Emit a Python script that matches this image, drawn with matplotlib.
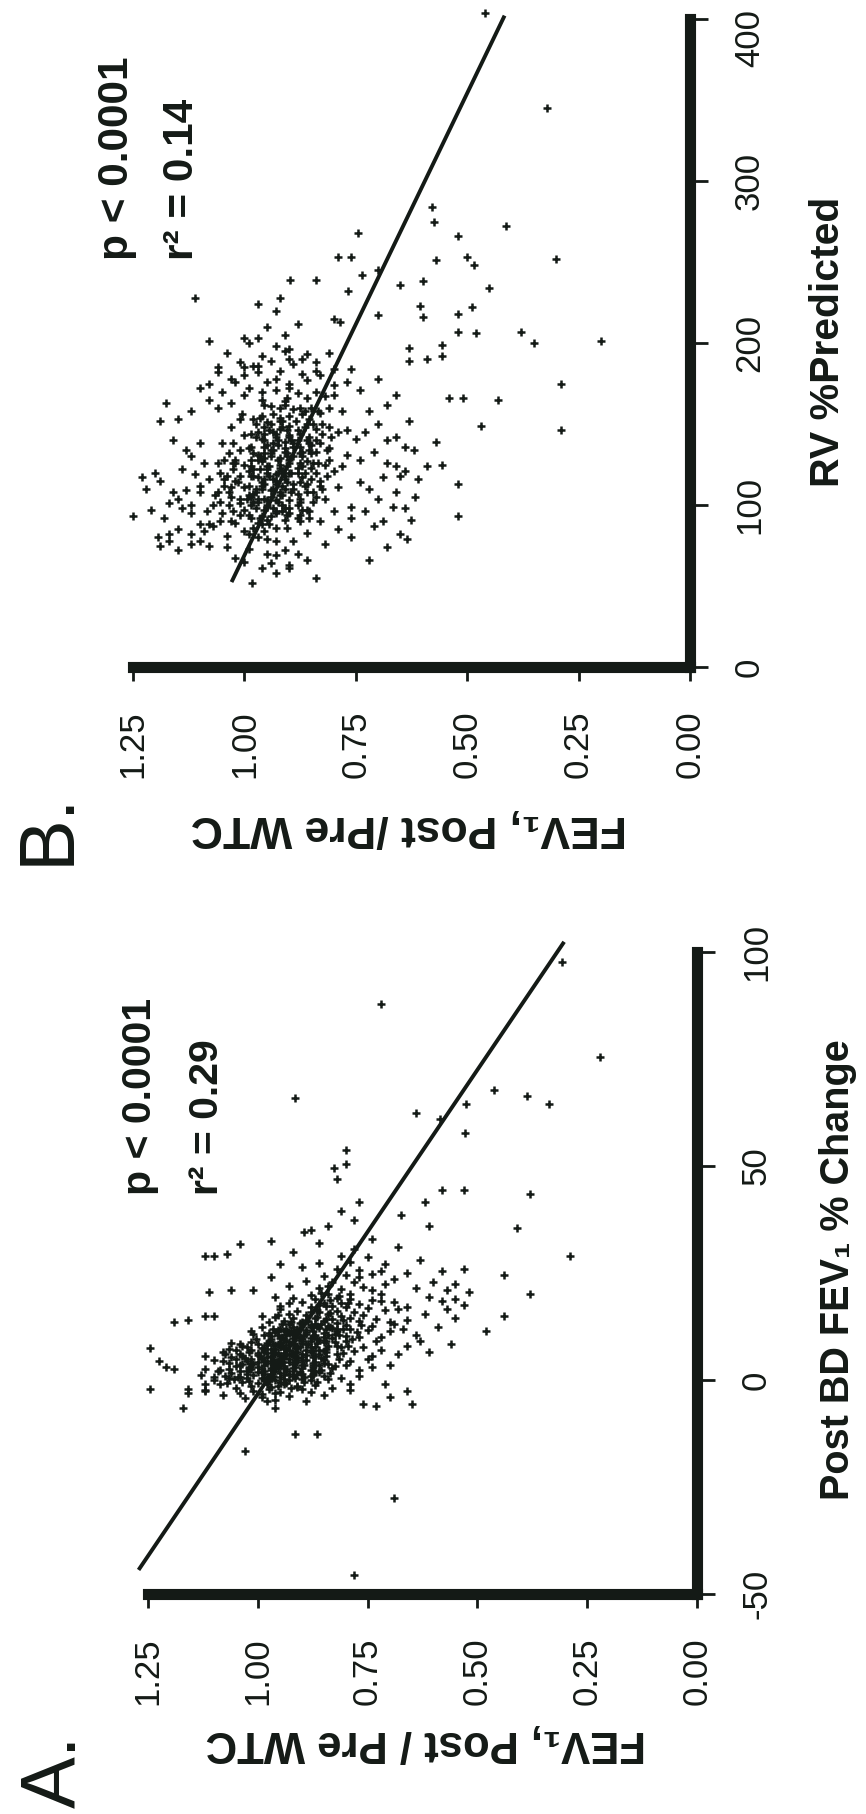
import matplotlib
matplotlib.use('Agg')
import matplotlib.pyplot as plt
import matplotlib.transforms as mtransforms

W, H = 866, 1814
FONT = ['Liberation Sans', 'DejaVu Sans']
plt.rcParams['font.family'] = FONT
INK = '#141a16'

# ---- panel A : post BD FEV1 % change (x) vs FEV1 post/pre WTC (y)
a_core = [
    (-4.6, 0.96), (-4.3, 1.03), (-4.8, 0.89),
    (-3.4, 1.08), (-3.7, 0.93), (-3.2, 0.99), (-3.6, 0.85),
    (-2.5, 1.01), (-2.8, 0.95), (-2.4, 1.12), (-2.7, 0.88), (-2.3, 0.79),
    (-1.7, 0.97), (-1.9, 1.05), (-1.6, 0.91), (-2.0, 1.16), (-1.8, 0.83),
    (-0.8, 1.00), (-1.0, 0.94), (-0.7, 1.07), (-1.1, 0.87), (-0.9, 0.98),
    (0.1, 0.96), (-0.2, 1.02), (0.3, 0.90), (0.0, 1.10), (-0.1, 0.93), (0.2, 0.84), (0.4, 0.99),
    (0.8, 0.98), (1.0, 0.92), (0.6, 1.04), (0.9, 0.88), (0.7, 0.95), (1.1, 1.13), (0.5, 0.81),
    (1.6, 0.95), (1.8, 1.00), (1.4, 0.90), (1.7, 1.06), (1.5, 0.97), (1.9, 0.86), (1.3, 0.93),
    (2.4, 0.97), (2.2, 0.92), (2.6, 1.02), (2.3, 0.88), (2.5, 0.99), (2.7, 0.94), (2.1, 1.09), (2.8, 0.83), (2.4, 0.77),
    (3.2, 0.94), (3.0, 1.00), (3.4, 0.90), (3.1, 0.96), (3.3, 1.05), (3.5, 0.86), (2.9, 0.92), (3.6, 0.80),
    (4.0, 0.96), (4.2, 0.91), (3.8, 1.01), (4.1, 0.87), (3.9, 0.98), (4.3, 0.93), (4.4, 1.08), (3.7, 0.84),
    (4.8, 0.93), (5.0, 0.99), (4.6, 0.89), (4.9, 0.95), (5.1, 1.03), (4.7, 0.85), (5.2, 0.91), (4.5, 0.79),
    (5.6, 0.95), (5.4, 0.90), (5.8, 1.00), (5.5, 0.87), (5.7, 0.97), (5.9, 0.92), (5.3, 1.06), (6.0, 0.82), (5.6, 0.74),
    (6.4, 0.92), (6.2, 0.98), (6.6, 0.88), (6.3, 0.94), (6.5, 1.02), (6.7, 0.85), (6.1, 0.90), (6.8, 0.78),
    (7.2, 0.94), (7.0, 0.89), (7.4, 0.99), (7.1, 0.86), (7.3, 0.96), (7.5, 0.91), (6.9, 1.05), (7.6, 0.81),
    (8.0, 0.91), (8.2, 0.96), (7.8, 0.87), (8.1, 0.93), (8.3, 1.00), (7.9, 0.84), (8.4, 0.89), (7.7, 0.76),
    (8.8, 0.93), (9.0, 0.88), (8.6, 0.98), (8.9, 0.85), (8.7, 0.95), (9.1, 0.90), (9.2, 0.80), (8.5, 1.04),
    (9.6, 0.90), (9.8, 0.95), (9.4, 0.86), (9.7, 0.92), (9.9, 0.83), (9.5, 0.97), (10.0, 0.77),
    (10.4, 0.92), (10.6, 0.87), (10.2, 0.97), (10.5, 0.84), (10.7, 0.89), (10.3, 0.80), (10.8, 1.01), (10.1, 0.72),
    (11.2, 0.89), (11.4, 0.94), (11.0, 0.85), (11.3, 0.91), (11.5, 0.82), (11.1, 0.96), (11.6, 0.75),
    (12.0, 0.91), (12.2, 0.86), (11.8, 0.95), (12.1, 0.83), (12.3, 0.88), (11.9, 0.79), (12.4, 0.99),
    (12.8, 0.88), (13.0, 0.93), (12.6, 0.84), (12.9, 0.80), (13.1, 0.90), (12.7, 0.74),
    (13.6, 0.90), (13.8, 0.85), (13.4, 0.82), (13.7, 0.94), (13.9, 0.77), (13.5, 0.70),
    (14.4, 0.87), (14.6, 0.92), (14.2, 0.83), (14.5, 0.79), (14.7, 0.96), (14.3, 0.73),
    (15.2, 0.89), (15.4, 0.84), (15.0, 0.81), (15.3, 0.76), (15.5, 0.93),
    (16.0, 0.86), (16.2, 0.91), (15.8, 0.78), (16.1, 0.82), (16.3, 0.71),
    (17.0, 0.88), (17.2, 0.83), (16.8, 0.75), (17.1, 0.80), (17.3, 0.95),
    (18.0, 0.85), (18.2, 0.90), (17.8, 0.77), (18.1, 0.81), (18.3, 0.69),
    (19.0, 0.87), (19.2, 0.82), (18.8, 0.74), (19.1, 0.92),
    (20.0, 0.84), (20.2, 0.79), (19.8, 0.88), (20.1, 0.72),
    (21.5, 0.86), (21.3, 0.81), (21.7, 0.76),
    (23.0, 0.83), (22.8, 0.78), (23.2, 0.89),
    (24.5, 0.80), (24.3, 0.85), (24.7, 0.74),
    (26.0, 0.82), (25.8, 0.77), (27.5, 0.79), (27.3, 0.86), (29.0, 0.81), (28.8, 0.75),
]
a_dense = [
    (1.2, 0.94), (2.0, 0.96), (2.9, 0.97), (3.6, 0.95), (4.5, 0.97), (5.2, 0.94), (6.0, 0.96),
    (6.9, 0.93), (7.8, 0.95), (8.4, 0.92), (9.3, 0.94), (1.5, 0.91), (2.7, 0.90), (3.8, 0.92),
    (4.6, 0.90), (5.8, 0.89), (6.6, 0.91), (7.6, 0.88), (8.6, 0.90), (9.8, 0.88), (0.5, 0.97),
    (1.9, 0.99), (3.0, 1.02), (4.2, 1.00), (5.4, 0.98), (6.2, 1.00), (7.2, 0.97), (8.1, 0.98),
    (1.1, 1.01), (2.2, 1.04), (3.5, 1.04), (4.9, 1.05), (6.0, 1.04), (0.2, 0.94), (10.9, 0.93),
    (11.7, 0.89), (12.5, 0.92), (13.2, 0.87), (14.0, 0.89), (0.0, 0.88), (-1.3, 0.91), (-0.5, 0.95),
    (2.0, 0.87), (4.0, 0.85), (6.0, 0.86), (8.0, 0.82), (10.0, 0.85), (12.0, 0.82), (1.0, 0.85),
]
a_core2 = [
    (-2.2, 0.975), (-1.4, 1.015), (-0.6, 0.935), (0.2, 1.055), (1.0, 0.965), (1.8, 0.905),
    (2.6, 1.065), (3.4, 0.985), (4.2, 0.945), (5.0, 1.015), (5.8, 0.935), (6.6, 0.965),
    (7.4, 0.915), (8.2, 0.945), (9.0, 0.975), (9.8, 0.905), (10.6, 0.935), (11.4, 0.875),
    (12.2, 0.905), (13.0, 0.855), (13.8, 0.885),
    (-1.8, 0.925), (-1.0, 1.085), (-0.2, 0.975), (0.6, 0.895), (1.4, 1.025), (2.2, 0.985),
    (3.0, 0.875), (3.8, 1.035), (4.6, 0.915), (5.4, 0.875), (6.2, 0.955), (7.0, 1.015),
    (7.8, 0.905), (8.6, 0.865), (9.4, 0.915), (10.2, 0.875), (11.0, 0.915), (11.8, 0.845),
    (12.6, 0.865), (13.4, 0.905), (14.2, 0.845),
    (-0.4, 0.865), (0.4, 1.025), (1.2, 0.875), (2.0, 1.025), (2.8, 0.955), (3.6, 0.895),
    (4.4, 0.985), (5.2, 0.855), (6.0, 1.075), (6.8, 0.875), (7.6, 1.025), (8.4, 0.955),
    (9.2, 0.845), (10.0, 0.945), (10.8, 0.825), (11.6, 0.955), (12.4, 0.835), (13.2, 0.945),
    (14.0, 0.805), (14.8, 0.865), (15.6, 0.835), (16.4, 0.865), (17.2, 0.845), (18.0, 0.795),
    (18.8, 0.835), (19.6, 0.815), (20.4, 0.855),
    (1.6, 0.835), (3.2, 0.825), (4.8, 0.815), (6.4, 0.805), (8.0, 0.795), (9.6, 0.785),
    (11.2, 0.775), (12.8, 0.765), (2.4, 0.855), (4.0, 0.875), (5.6, 0.845), (7.2, 0.845),
    (8.8, 0.825), (10.4, 0.815), (12.0, 0.805),
    (0.8, 1.045), (2.4, 1.085), (4.0, 1.065), (5.6, 1.035), (7.2, 1.065), (8.8, 1.015),
    (10.4, 0.985), (12.0, 0.965), (13.6, 0.975), (15.2, 0.955),
]
a_core3 = [
    (-0.5, 1.035), (0.5, 0.915), (1.5, 0.985), (2.5, 0.935), (3.5, 0.965), (4.5, 1.025),
    (5.5, 0.915), (6.5, 0.985), (7.5, 0.935), (8.5, 0.965), (9.5, 1.005), (10.5, 0.955),
    (11.5, 0.925), (0.0, 0.985), (1.0, 1.075), (2.0, 0.935), (3.0, 0.915), (4.0, 1.015),
    (5.0, 0.965), (6.0, 0.925), (7.0, 0.985), (8.0, 1.035), (9.0, 0.935), (10.0, 0.905),
    (11.0, 0.975), (12.0, 0.935), (-1.5, 0.955), (-0.5, 0.895), (0.5, 1.065), (1.5, 0.875),
    (2.5, 1.015), (3.5, 0.875), (4.5, 0.955), (5.5, 0.995), (6.5, 0.845), (7.5, 0.985),
    (8.5, 0.885), (9.5, 0.865), (10.5, 0.895), (11.5, 1.015), (12.5, 0.875), (13.5, 0.925),
    (-3.0, 1.04), (-2.0, 0.90), (-4.0, 0.99), (-3.0, 0.96), (-1.0, 1.12), (0.6, 1.10),
    (2.6, 1.12), (4.6, 1.10), (6.6, 1.08), (8.6, 1.06), (15.0, 0.99), (16.5, 0.95),
    (18.0, 0.93), (19.5, 0.96), (16.0, 0.88), (17.5, 0.86), (19.0, 0.79), (21.0, 0.74),
    (22.5, 0.71), (24.0, 0.77), (25.5, 0.72), (22.0, 0.84), (18.5, 0.72), (16.5, 0.68),
    (14.0, 0.66), (11.5, 0.70), (9.0, 0.73), (7.0, 0.72), (5.0, 0.75), (3.0, 0.74),
    (1.0, 0.77), (-1.0, 0.79),
]
a_spread = [
    (-45.5, 0.78), (-27.5, 0.69), (-16.5, 1.03), (-12.5, 0.915), (-12.5, 0.865),
    (-6.5, 1.17), (-6.0, 0.73), (-5.5, 0.65), (-5.5, 0.76), (-6.5, 0.96), (-5.0, 0.98),
    (-4.0, 0.70), (-3.0, 1.16), (-2.0, 1.245), (-2.5, 1.12), (-2.5, 0.66), (-1.0, 0.71),
    (2.5, 1.19), (3.0, 1.21), (4.5, 1.225), (5.5, 1.12), (7.5, 1.245), (6.0, 0.68), (8.0, 0.66),
    (3.5, 0.70), (10.5, 0.64), (12.0, 0.67), (13.5, 1.19), (14.0, 1.16), (15.0, 1.12),
    (15.0, 1.10), (20.5, 1.11), (21.0, 1.06), (21.0, 1.01), (29.0, 1.12), (29.5, 1.07),
    (31.7, 1.04), (29.0, 1.10), (22.0, 0.93), (24.0, 0.97), (26.5, 0.90), (27.0, 0.95),
    (30.0, 0.92), (32.5, 0.97), (35.0, 0.88),
    (6.5, 0.61), (8.5, 0.56), (9.0, 0.63), (11.5, 0.48), (12.5, 0.59), (13.0, 0.69),
    (14.5, 0.55), (15.0, 0.44), (15.5, 0.62), (16.5, 0.57), (17.0, 0.66), (17.5, 0.53),
    (18.5, 0.58), (19.0, 0.55), (19.5, 0.61), (20.0, 0.38), (20.5, 0.52), (21.0, 0.57),
    (21.5, 0.64), (22.5, 0.55), (23.0, 0.60), (23.5, 0.69), (24.5, 0.44), (25.0, 0.66),
    (25.5, 0.58), (26.0, 0.53), (27.0, 0.71), (28.0, 0.63), (29.0, 0.29), (30.5, 0.78),
    (31.0, 0.68), (32.0, 0.86), (33.0, 0.74), (34.5, 0.895), (35.5, 0.41), (36.0, 0.84),
    (36.0, 0.61), (37.5, 0.78), (38.5, 0.675), (39.5, 0.81), (41.5, 0.62), (41.5, 0.77),
    (43.5, 0.38), (44.5, 0.58), (44.5, 0.53), (47.0, 0.82), (49.6, 0.826), (50.5, 0.80),
    (53.8, 0.80), (57.6, 0.528), (61.0, 0.585), (62.5, 0.64), (64.4, 0.525), (64.4, 0.336),
    (66.3, 0.387), (66.0, 0.915), (67.8, 0.463), (75.4, 0.22), (87.9, 0.72), (97.7, 0.308),
]
fit_a_x = [-44, 102]
fit_a_y = [1.269, 0.305]

# ---- panel B : RV % predicted (x) vs FEV1 post/pre WTC (y)
b_core = [
    (61, 0.96), (63, 0.90), (67, 1.02), (69, 0.93), (66, 0.86),
    (73, 0.99), (75, 1.08), (72, 0.91), (76, 0.82),
    (79, 0.95), (81, 1.04), (78, 0.89), (82, 1.12), (80, 0.97),
    (84, 1.00), (86, 0.93), (83, 0.86), (87, 1.07), (85, 0.79), (88, 0.96),
    (89, 0.97), (91, 0.91), (90, 1.03), (92, 0.88), (88, 1.10), (93, 0.94), (90, 0.83),
    (94, 0.99), (96, 0.93), (95, 1.05), (97, 0.87), (93, 0.96), (98, 1.14), (95, 0.90), (96, 0.80),
    (99, 0.95), (101, 1.01), (98, 0.90), (102, 0.98), (100, 1.07), (97, 0.86), (103, 0.93), (99, 0.76), (101, 1.17),
    (104, 0.97), (106, 0.92), (105, 1.03), (107, 0.88), (103, 0.95), (108, 1.10), (105, 0.84), (106, 0.99),
    (109, 0.94), (111, 1.00), (110, 0.89), (112, 0.96), (108, 1.06), (113, 0.86), (110, 0.91), (111, 0.79), (109, 1.13),
    (114, 0.96), (116, 0.91), (115, 1.02), (117, 0.87), (113, 0.93), (118, 0.98), (115, 0.83), (116, 1.08), (114, 0.74),
    (119, 0.93), (121, 0.99), (120, 0.88), (122, 0.95), (118, 1.04), (123, 0.85), (120, 0.90), (121, 0.80), (119, 1.11),
    (124, 0.95), (126, 0.90), (125, 1.00), (127, 0.86), (123, 0.92), (128, 0.97), (125, 0.82), (126, 1.06),
    (129, 0.92), (131, 0.97), (130, 0.87), (132, 0.94), (128, 1.02), (133, 0.84), (130, 0.89), (131, 0.77),
    (134, 0.94), (136, 0.89), (135, 0.99), (137, 0.85), (133, 0.91), (138, 1.05), (135, 0.81),
    (139, 0.91), (141, 0.96), (140, 0.86), (142, 0.93), (138, 0.83), (143, 1.00), (140, 0.88), (141, 0.75),
    (144, 0.93), (146, 0.88), (145, 0.97), (147, 0.84), (143, 0.90), (148, 1.03), (145, 0.79),
    (149, 0.90), (151, 0.95), (150, 0.86), (152, 0.92), (148, 0.81), (153, 0.98),
    (154, 0.92), (156, 0.87), (155, 0.96), (157, 0.83), (153, 1.01),
    (159, 0.89), (161, 0.94), (160, 0.85), (162, 0.91), (158, 0.78),
    (164, 0.91), (166, 0.86), (165, 0.96), (167, 0.82), (163, 1.03),
    (169, 0.88), (171, 0.93), (170, 0.84), (172, 0.99),
    (175, 0.90), (177, 0.86), (176, 0.95), (174, 0.80),
    (181, 0.87), (183, 0.92), (182, 0.97), (180, 0.83),
    (187, 0.89), (189, 0.94), (188, 0.84), (193, 0.86), (195, 0.91), (194, 0.81),
]
b_dense = [
    (95, 0.93), (100, 0.95), (105, 0.94), (110, 0.96), (115, 0.93), (120, 0.95), (125, 0.92),
    (130, 0.94), (135, 0.91), (98, 0.91), (103, 0.90), (108, 0.92), (113, 0.89), (118, 0.91),
    (123, 0.88), (128, 0.90), (133, 0.87), (138, 0.89), (102, 0.97), (107, 0.98), (112, 0.99),
    (117, 0.97), (122, 0.98), (127, 0.96), (132, 0.98), (137, 0.95), (142, 0.90), (147, 0.92),
    (97, 1.00), (104, 1.01), (111, 1.03), (118, 1.01), (126, 1.02), (134, 1.01), (100, 0.88),
    (108, 0.86), (116, 0.85), (124, 0.87), (132, 0.85), (140, 0.84), (91, 0.95), (86, 0.98),
    (94, 1.01), (150, 0.94), (155, 0.90), (160, 0.92), (112, 0.83), (120, 0.84), (104, 0.82),
    (128, 0.81),
]
b_core2 = [
    (88, 0.945), (92, 0.985), (96, 0.915), (100, 1.035), (104, 0.955), (108, 0.895), (112, 1.045),
    (116, 0.955), (120, 0.925), (124, 0.985), (128, 0.925), (132, 0.905), (136, 0.955), (140, 0.925),
    (144, 0.875), (148, 0.955), (152, 0.885), (156, 0.935),
    (86, 0.905), (90, 1.055), (94, 0.875), (98, 0.975), (102, 0.925), (106, 1.065), (110, 0.935),
    (114, 0.875), (118, 0.945), (122, 1.025), (126, 0.875), (130, 0.965), (134, 0.855), (138, 0.935),
    (142, 0.975), (146, 0.905), (150, 0.845), (154, 0.965), (158, 0.865), (162, 0.955),
    (84, 0.955), (92, 0.855), (100, 0.915), (108, 0.975), (116, 1.045), (124, 0.905), (132, 1.035),
    (140, 0.955), (148, 0.865), (156, 1.005),
    (96, 1.085), (104, 0.875), (112, 0.915), (120, 0.865), (128, 1.045), (136, 0.875), (144, 0.955),
    (152, 0.915), (160, 0.875),
    (89, 1.02), (97, 0.955), (105, 0.985), (113, 0.955), (121, 0.915), (129, 0.955), (137, 0.925),
    (145, 0.935), (153, 0.855),
    (102, 0.845), (110, 0.825), (118, 0.815), (126, 0.845), (134, 0.815), (142, 0.805), (150, 0.825),
    (158, 0.835), (166, 0.905),
    (70, 0.95), (74, 1.04), (78, 0.93), (82, 0.99), (65, 1.00), (70, 0.88), (76, 1.12), (84, 1.09),
    (58, 0.93), (64, 0.94),
    (170, 0.96), (178, 0.93), (186, 0.97), (172, 0.90), (180, 1.00), (190, 0.90), (168, 0.80),
    (176, 0.77), (184, 0.80), (160, 0.81),
]
b_core3 = [
    (92, 0.965), (98, 0.935), (104, 0.995), (110, 0.975), (116, 0.935), (122, 0.965), (128, 0.985),
    (134, 0.935), (140, 0.895), (146, 0.945), (94, 0.905), (100, 0.985), (106, 0.915), (112, 0.865),
    (118, 0.985), (124, 0.945), (130, 0.905), (136, 0.985), (142, 0.855), (148, 0.915),
    (96, 1.025), (102, 1.055), (108, 1.035), (114, 1.015), (120, 1.055), (126, 1.025), (132, 0.955),
    (138, 1.025), (144, 0.985), (150, 0.975), (90, 0.875), (96, 0.855), (102, 0.875), (108, 0.845),
    (114, 0.905), (120, 0.895), (126, 0.835), (132, 0.875), (138, 0.855), (144, 0.825),
    (85, 1.15), (92, 1.18), (100, 1.12), (108, 1.16), (115, 1.19), (122, 1.14), (130, 1.12),
    (138, 1.10), (88, 1.08), (95, 1.12), (104, 1.15), (112, 1.10), (126, 1.09), (134, 1.13),
    (82, 1.17), (97, 1.21), (120, 1.20), (140, 1.16), (110, 1.22), (78, 1.10),
    (165, 1.08), (170, 1.05), (176, 1.02), (182, 1.06), (188, 1.01), (194, 1.04), (172, 1.10),
    (160, 1.06), (200, 0.99), (168, 1.00), (158, 1.12), (186, 0.98),
    (66, 0.72), (74, 0.68), (82, 0.65), (90, 0.69), (98, 0.64), (108, 0.66), (116, 0.61),
    (126, 0.68), (134, 0.62), (142, 0.66), (152, 0.63), (80, 0.76), (92, 0.76), (124, 0.78),
    (146, 0.77),
]
b_spread = [
    (93, 1.25), (117, 1.23), (80, 1.195), (152, 1.19), (153, 1.15), (163, 1.176), (228, 1.11),
    (201, 1.08), (203, 1.00), (203, 0.97), (224, 0.97), (239, 0.897), (239, 0.84), (253, 0.79),
    (253, 0.76), (268, 0.744), (242, 0.736), (232, 0.767), (215, 0.80), (213, 0.785), (245, 0.70),
    (217, 0.70), (236, 0.65), (238, 0.60), (223, 0.605), (216, 0.60), (284, 0.58), (275, 0.575),
    (251, 0.57), (266, 0.52), (253, 0.50), (248, 0.484), (218, 0.52), (222, 0.49), (207, 0.52),
    (206, 0.48), (234, 0.45), (272, 0.413), (207, 0.38), (200, 0.35), (345, 0.32), (252, 0.30),
    (201, 0.20), (175, 0.29), (146, 0.29), (165, 0.43), (149, 0.47), (93, 0.52), (113, 0.52),
    (166, 0.54), (166, 0.51), (199, 0.556), (192, 0.556), (190, 0.59), (197, 0.63), (189, 0.63),
    (139, 0.57), (124, 0.59), (125, 0.556), (79, 0.636), (91, 0.627), (99, 0.667), (118, 0.65),
    (121, 0.64), (124, 0.66), (105, 0.618), (404, 0.459), (55, 0.84), (52, 0.984), (61, 0.90),
    (75, 1.19), (78, 1.17), (72, 1.15),
    (158, 0.72), (162, 0.68), (171, 0.74), (178, 0.70), (184, 0.76), (168, 0.66), (150, 0.70),
    (145, 0.73), (140, 0.68), (133, 0.71), (128, 0.74), (136, 0.64), (110, 0.72), (104, 0.70),
    (96, 0.73), (87, 0.71), (117, 0.69),
    (178, 1.03), (185, 1.00), (192, 0.96), (198, 0.93), (205, 0.91), (185, 1.06), (212, 0.88),
    (220, 0.93), (175, 1.08), (196, 0.90), (210, 0.95), (228, 0.92), (190, 0.87), (183, 0.84),
]
fit_b_x = [53.5, 401]
fit_b_y = [1.027, 0.418]

ratio_ticks = [0, 0.25, 0.5, 0.75, 1.0, 1.25]
a_ticks = [-50, 0, 50, 100]
b_ticks = [0, 100, 200, 300, 400]


def px_axes(left, top, right, bottom):
    return fig.add_axes([left / W, 1 - bottom / H, (right - left) / W, (bottom - top) / H])


def ptext(px, py, s, **kw):
    fig.text(px / W, 1 - py / H, s, **kw)


fig = plt.figure(figsize=(W / 100, H / 100), dpi=100)
fig.patch.set_facecolor('white')


def style(ax, yticks, ylim):
    ax.set_xlim(1.25, 0)
    ax.set_ylim(*ylim)
    for s in ['top', 'left']:
        ax.spines[s].set_visible(False)
    for s in ['bottom', 'right']:
        ax.spines[s].set_linewidth(8)
        ax.spines[s].set_color(INK)
    ax.set_xticks(ratio_ticks)
    ax.set_xticklabels(['%.2f' % t for t in ratio_ticks])
    ax.set_yticks(yticks)
    ax.set_yticklabels([str(t) for t in yticks])
    ax.tick_params(axis='x', direction='out', length=10, width=2, pad=21,
                   labelsize=25, labelrotation=90, color=INK, labelcolor=INK)
    ax.tick_params(axis='y', left=False, labelleft=False, right=True, labelright=True,
                   direction='out', length=13, width=2, pad=18, labelsize=25,
                   labelrotation=90, color=INK, labelcolor=INK)
    for lab in ax.get_yticklabels(which='both'):
        lab.set_va('center')
    ax.patch.set_alpha(0)


def scatter(ax, groups, fx, fy):
    for pts in groups:
        xs = [p[0] for p in pts]
        ys = [p[1] for p in pts]
        ax.plot(ys, xs, '+', color=INK, ms=5.5, mew=1.8, clip_on=False)
    ax.plot(fy, fx, '-', color=INK, lw=2.8, clip_on=False)


# panel B (top of page)
ax_b = px_axes(133, 19, 690, 667)
style(ax_b, b_ticks, (0, 400))
scatter(ax_b, [b_core, b_dense, b_core2, b_core3, b_spread], fit_b_x, fit_b_y)
top_lab = ax_b.yaxis.get_major_ticks()[-1].label2
top_lab.set_transform(top_lab.get_transform() +
                      mtransforms.ScaledTranslation(0, -14 / 72, fig.dpi_scale_trans))

# panel A (bottom of page)
ax_a = px_axes(148, 952, 697, 1594)
style(ax_a, a_ticks, (-50, 100))
scatter(ax_a, [a_core, a_dense, a_core2, a_core3, a_spread], fit_a_x, fit_a_y)

bold = dict(fontweight='bold', color=INK)
ptext(828, 342, 'RV %Predicted', rotation=90, ha='center', va='center', fontsize=29.5, **bold)
ptext(838, 1270, 'Post BD FEV₁ % Change', rotation=90, ha='center', va='center', fontsize=28.5, **bold)
ptext(409, 828, 'FEV₁, Post /Pre WTC', rotation=180, ha='center', va='center', fontsize=32, **bold)
ptext(426, 1742, 'FEV₁, Post / Pre WTC', rotation=180, ha='center', va='center', fontsize=31.5, **bold)

ptext(117, 260, 'p < 0.0001', rotation=90, ha='center', va='bottom', fontsize=30.5, **bold)
ptext(182, 260, 'r² = 0.14', rotation=90, ha='center', va='bottom', fontsize=30.5, **bold)
ptext(140, 1195, 'p < 0.0001', rotation=90, ha='center', va='bottom', fontsize=29.5, **bold)
ptext(207, 1195, 'r² = 0.29', rotation=90, ha='center', va='bottom', fontsize=29.5, **bold)

ptext(48, 828, 'B.', rotation=90, ha='center', va='center', fontsize=56, color=INK)
ptext(55, 1771, 'A.', rotation=90, ha='center', va='center', fontsize=56, color=INK)

fig.savefig('out.png', dpi=100, facecolor='white')
